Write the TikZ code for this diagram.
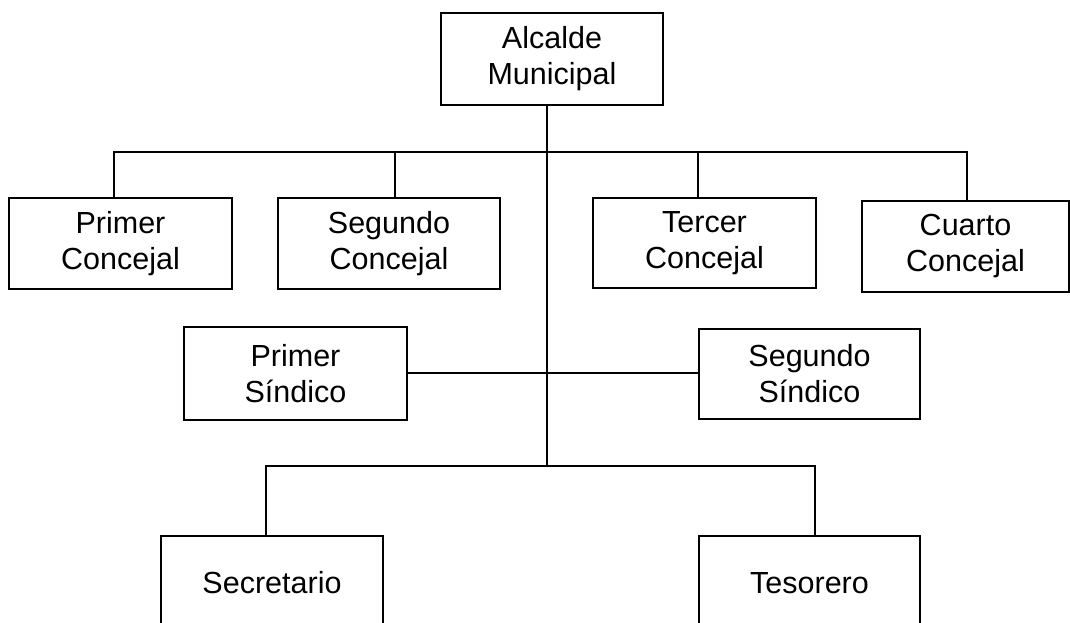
\documentclass[tikz,border=0pt]{standalone}
\usepackage{fontspec}
\setmainfont{Liberation Sans}
\begin{document}
\begin{tikzpicture}[x=1pt,y=-1pt,
  orgbox/.style={draw=black, line width=1.3pt, fill=white, inner sep=0pt,
    align=center, font=\fontsize{30.5}{36}\selectfont},
  link/.style={line width=1.3pt}]
\useasboundingbox (0,0) rectangle (1070,623);
\clip (0,0) rectangle (1070,623);
% nodes
\node[orgbox, minimum width=222pt, minimum height=92pt] (alc) at (552,59) {Alcalde\\Municipal};
\node[orgbox, minimum width=223pt, minimum height=91pt] (c1) at (120.5,243.5) {Primer\\Concejal};
\node[orgbox, minimum width=222pt, minimum height=91pt] (c2) at (389,243.5) {Segundo\\Concejal};
\node[orgbox, minimum width=223pt, minimum height=90pt] (c3) at (704.5,243) {Tercer\\Concejal};
\node[orgbox, minimum width=207pt, minimum height=91pt] (c4) at (965.5,246.5) {Cuarto\\Concejal};
\node[orgbox, minimum width=223pt, minimum height=93pt] (s1) at (295.5,373.5) {Primer\\Síndico};
\node[orgbox, minimum width=221pt, minimum height=90pt] (s2) at (809.5,374) {Segundo\\Síndico};
\node[orgbox, minimum width=222pt, minimum height=94pt] (sec) at (272,583) {Secretario};
\node[orgbox, minimum width=221pt, minimum height=94pt] (tes) at (809.5,583) {Tesorero};
% junction coordinates
\coordinate (trunkTop) at (547,105);
\coordinate (jTop) at (547,152);
\coordinate (jMid) at (547,373);
\coordinate (jBot) at (547,466);
\coordinate (hL) at (114,152);
\coordinate (hR) at (967,152);
\coordinate (h2) at (395,152);
\coordinate (h3) at (698,152);
\coordinate (bL) at (266,466);
\coordinate (bR) at (815,466);
% connectors
\draw[link] (trunkTop |- alc.south) -- (jBot);
\draw[link] (hL |- c1.north) -- (hL) -- (hR) -- (hR |- c4.north);
\draw[link] (h2) -- (h2 |- c2.north);
\draw[link] (h3) -- (h3 |- c3.north);
\draw[link] (s1.east |- jMid) -- (jMid) -- (s2.west |- jMid);
\draw[link] (bL |- sec.north) -- (bL) -- (bR) -- (bR |- tes.north);
\end{tikzpicture}
\end{document}
